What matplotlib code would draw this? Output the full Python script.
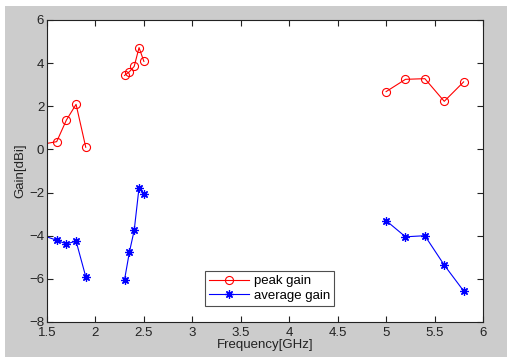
import matplotlib
matplotlib.use("Agg")
import matplotlib.pyplot as plt
from matplotlib.patches import Rectangle

plt.rcParams['font.family'] = ['Liberation Sans', 'DejaVu Sans']

# Data
freq_low = [1.4, 1.6, 1.7, 1.8, 1.9]
peak_low = [0.2, 0.36, 1.36, 2.09, 0.10]
avg_low = [-3.9, -4.21, -4.38, -4.25, -5.90]

freq_mid = [2.3, 2.35, 2.4, 2.45, 2.5]
peak_mid = [3.43, 3.60, 3.85, 4.72, 4.08]
avg_mid = [-6.05, -4.77, -3.75, -1.77, -2.05]

freq_high = [5.0, 5.2, 5.4, 5.6, 5.8]
peak_high = [2.68, 3.25, 3.28, 2.23, 3.13]
avg_high = [-3.30, -4.05, -4.00, -5.36, -6.56]

xticks = [1.5, 2, 2.5, 3, 3.5, 4, 4.5, 5, 5.5, 6]
xticklabels = ['1.5', '2', '2.5', '3', '3.5', '4', '4.5', '5', '5.5', '6']
yticks = [-8, -6, -4, -2, 0, 2, 4, 6]

W, H = 507, 357
fig = plt.figure(figsize=(W / 100, H / 100), dpi=100)
fig.patch.set_facecolor('white')
fig.patches.append(Rectangle((5 / W, 0), 1 - 5 / W, 1 - 6 / H, transform=fig.transFigure,
                             facecolor='#cccccc', edgecolor='none', zorder=-10))

ax = fig.add_axes([47 / W, (H - 322) / H, 436 / W, 302 / H])
ax.set_facecolor('white')

red = '#ff0000'
blue = '#0000ff'
for i, (f, p, a) in enumerate([(freq_low, peak_low, avg_low),
                               (freq_mid, peak_mid, avg_mid),
                               (freq_high, peak_high, avg_high)]):
    ax.plot(f, p, color=red, lw=0.8, marker='o', markersize=5.8, markerfacecolor='none',
            markeredgecolor=red, markeredgewidth=0.8, label='peak gain' if i == 0 else None)
    ax.plot(f, a, color=blue, lw=0.8, marker=(8, 2, 0), markersize=6,
            markeredgecolor=blue, markeredgewidth=0.9, label='average gain' if i == 0 else None)

ax.set_xlim(1.5, 6)
ax.set_ylim(-8, 6)
ax.set_xticks(xticks)
ax.set_xticklabels(xticklabels)
ax.set_yticks(yticks)
ax.tick_params(direction='in', top=True, right=True, length=4, width=0.8,
               labelsize=9.5, colors='#222222', pad=2)
ax.tick_params(axis='x', pad=3.5)
for s in ax.spines.values():
    s.set_linewidth(0.8)
    s.set_color('#222222')

ax.set_xlabel('Frequency[GHz]', fontsize=9.5, color='#222222', labelpad=0)
ax.set_ylabel('Gain[dBi]', fontsize=9.5, color='#222222', labelpad=2)

leg = ax.legend(loc='lower left', bbox_to_anchor=(205 / W, (H - 306) / H),
                bbox_transform=fig.transFigure, fontsize=9.5, frameon=True, fancybox=False,
                edgecolor='#222222', handlelength=3.0, borderpad=0.3, labelspacing=0.2,
                handletextpad=0.4, borderaxespad=0)
leg.get_frame().set_linewidth(0.8)

fig.savefig('out.png', dpi=100, facecolor=fig.get_facecolor())
